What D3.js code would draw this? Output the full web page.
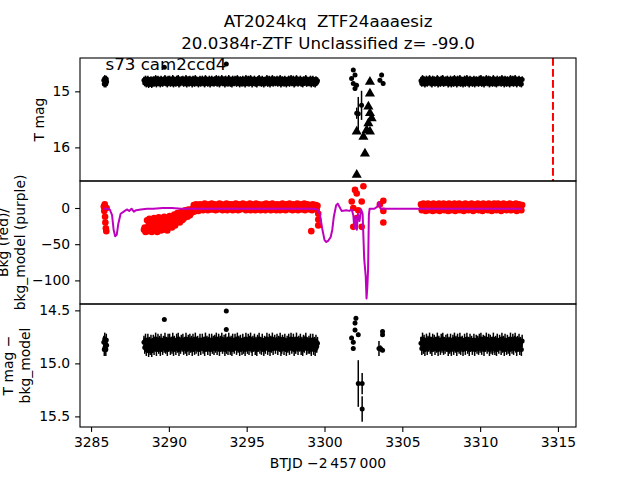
<!DOCTYPE html>
<html><head><meta charset="utf-8">
<script src="https://cdn.jsdelivr.net/npm/d3@7"></script>
<style>body{margin:0;background:#fff} text{font-family:"DejaVu Sans",sans-serif;white-space:pre}</style>
</head><body>
<svg id="c" width="640" height="480"></svg>
<script>
// ---------------- data ----------------
const titleLines = ["AT2024kq  ZTF24aaaesiz", "20.0384r-ZTF Unclassified z= -99.0"];
const sectorLabel = "s73 cam2ccd4";
const xTicks = [3285, 3290, 3295, 3300, 3305, 3310, 3315];
const topTicks = [15, 16];
const midTicks = [0, -50, -100];
const botTicks = [14.5, 15.0, 15.5];
const markerLine = 3314.68;

// TESS dense light curve, segment A
const timeA = [3285.82, 3285.85, 3285.88, 3285.90, 3285.92, 3285.95, 3285.98, 3286.00];
const magA  = [14.80, 14.87, 14.77, 14.85, 14.81, 14.87, 14.78, 14.83];
const bkgA  = [2, -4, 5, -12, -20, -28, -32, 0];

// segment B
const timeB = [
 3288.40, 3288.45, 3288.50, 3288.55, 3288.60, 3288.65, 3288.70, 3288.75, 3288.80, 3288.85, 3288.90, 3288.95,
 3289.00, 3289.05, 3289.10, 3289.15, 3289.20, 3289.25, 3289.30, 3289.35, 3289.40, 3289.45, 3289.50, 3289.55, 3289.60, 3289.65, 3289.70, 3289.75, 3289.80, 3289.85, 3289.90, 3289.95,
 3290.00, 3290.05, 3290.10, 3290.15, 3290.20, 3290.25, 3290.30, 3290.35, 3290.40, 3290.45, 3290.50, 3290.55, 3290.60, 3290.65, 3290.70, 3290.75, 3290.80, 3290.85, 3290.90, 3290.95,
 3291.00, 3291.05, 3291.10, 3291.15, 3291.20, 3291.25, 3291.30, 3291.35, 3291.40, 3291.45, 3291.50, 3291.55, 3291.60, 3291.65, 3291.70, 3291.75, 3291.80, 3291.85, 3291.90, 3291.95,
 3292.00, 3292.05, 3292.10, 3292.15, 3292.20, 3292.25, 3292.30, 3292.35, 3292.40, 3292.45, 3292.50, 3292.55, 3292.60, 3292.65, 3292.70, 3292.75, 3292.80, 3292.85, 3292.90, 3292.95,
 3293.00, 3293.05, 3293.10, 3293.15, 3293.20, 3293.25, 3293.30, 3293.35, 3293.40, 3293.45, 3293.50, 3293.55, 3293.60, 3293.65, 3293.70, 3293.75, 3293.80, 3293.85, 3293.90, 3293.95,
 3294.00, 3294.05, 3294.10, 3294.15, 3294.20, 3294.25, 3294.30, 3294.35, 3294.40, 3294.45, 3294.50, 3294.55, 3294.60, 3294.65, 3294.70, 3294.75, 3294.80, 3294.85, 3294.90, 3294.95,
 3295.00, 3295.05, 3295.10, 3295.15, 3295.20, 3295.25, 3295.30, 3295.35, 3295.40, 3295.45, 3295.50, 3295.55, 3295.60, 3295.65, 3295.70, 3295.75, 3295.80, 3295.85, 3295.90, 3295.95,
 3296.00, 3296.05, 3296.10, 3296.15, 3296.20, 3296.25, 3296.30, 3296.35, 3296.40, 3296.45, 3296.50, 3296.55, 3296.60, 3296.65, 3296.70, 3296.75, 3296.80, 3296.85, 3296.90, 3296.95,
 3297.00, 3297.05, 3297.10, 3297.15, 3297.20, 3297.25, 3297.30, 3297.35, 3297.40, 3297.45, 3297.50, 3297.55, 3297.60, 3297.65, 3297.70, 3297.75, 3297.80, 3297.85, 3297.90, 3297.95,
 3298.00, 3298.05, 3298.10, 3298.15, 3298.20, 3298.25, 3298.30, 3298.35, 3298.40, 3298.45, 3298.50, 3298.55, 3298.60, 3298.65, 3298.70, 3298.75, 3298.80, 3298.85, 3298.90, 3298.95,
 3299.00, 3299.05, 3299.10, 3299.15, 3299.20, 3299.25, 3299.30, 3299.35, 3299.40, 3299.45, 3299.50, 3299.55];
const magB = [
 14.80, 14.85, 14.78, 14.87, 14.83, 14.78, 14.88, 14.81, 14.86, 14.79, 14.88, 14.82,
 14.79, 14.86, 14.81, 14.77, 14.87, 14.83, 14.78, 14.85, 14.80, 14.87, 14.78, 14.83, 14.86, 14.80, 14.84, 14.77, 14.85, 14.81, 14.87, 14.78,
 14.83, 14.78, 14.86, 14.81, 14.85, 14.77, 14.87, 14.80, 14.83, 14.86, 14.78, 14.84, 14.77, 14.87, 14.81, 14.85, 14.79, 14.83, 14.78, 14.86,
 14.81, 14.85, 14.77, 14.87, 14.82, 14.79, 14.86, 14.78, 14.84, 14.80, 14.87, 14.78, 14.83, 14.86, 14.77, 14.85, 14.81, 14.80, 14.87, 14.83,
 14.78, 14.86, 14.82, 14.78, 14.85, 14.81, 14.87, 14.77, 14.83, 14.80, 14.86, 14.81, 14.78, 14.87, 14.83, 14.78, 14.85, 14.80, 14.86, 14.79,
 14.84, 14.77, 14.86, 14.81, 14.78, 14.87, 14.80, 14.83, 14.77, 14.85, 14.82, 14.79, 14.87, 14.78, 14.85, 14.81, 14.86, 14.77, 14.83, 14.86,
 14.80, 14.87, 14.78, 14.83, 14.85, 14.78, 14.81, 14.86, 14.77, 14.84, 14.80, 14.87, 14.79, 14.83, 14.86, 14.78, 14.85, 14.81, 14.87, 14.77,
 14.82, 14.85, 14.78, 14.86, 14.80, 14.77, 14.84, 14.87, 14.80, 14.83, 14.78, 14.86, 14.81, 14.87, 14.79, 14.83, 14.77, 14.85, 14.81, 14.86,
 14.78, 14.83, 14.87, 14.80, 14.85, 14.81, 14.77, 14.86, 14.83, 14.78, 14.87, 14.80, 14.84, 14.77, 14.86, 14.82, 14.79, 14.85, 14.81, 14.78,
 14.86, 14.80, 14.83, 14.77, 14.87, 14.85, 14.79, 14.81, 14.86, 14.78, 14.83, 14.87, 14.80, 14.84, 14.78, 14.86, 14.81, 14.77, 14.85, 14.82,
 14.78, 14.87, 14.81, 14.85, 14.77, 14.83, 14.86, 14.80, 14.83, 14.78, 14.86, 14.81, 14.87, 14.79, 14.84, 14.80, 14.77, 14.86, 14.82, 14.85,
 14.80, 14.85, 14.78, 14.87, 14.82, 14.78, 14.86, 14.81, 14.87, 14.79, 14.84, 14.81];
const bkgB = [
 -30, -27, -33, -29, -17, -32, -24, -15, -29, -21, -33, -18,
 -26, -14, -31, -22, -16, -33, -25, -13, -29, -20, -31, -15, -24, -30, -12, -22, -28, -17, -31, -19,
 -13, -11, -25, -18, -27, -12, -21, -9, -24, -15, -20, -7, -18, -12, -20, -6, -14, -17, -9, -15,
 -5, -3, -11, -6, -12, -2, -8, -10, -4, -7, -1, -3, 4, -5, 1, 5, -2, 3, -4, 2,
 5, -2, 1, 4, -3, 2, 6, -1, 0, 4, -3, 3, 5, -2, 1, 6, -2, 2, 0, 5,
 -3, 1, 4, -2, 3, 6, -1, 0, 5, -3, 2, 4, -2, 1, 6, -3, 3, 0, 5, -1,
 2, 5, -3, 1, 4, -2, 6, 0, 3, -3, 5, 1, -2, 4, 2, 6, -1, 0, 5, -3,
 1, 4, -2, 3, 6, -3, 0, 5, 2, -1, 4, -3, 6, 1, -2, 3, 5, 0, -3, 4,
 3, -2, 5, 1, -3, 6, 2, 0, 4, -1, 5, -3, 2, 6, 0, -2, 4, 1, -3, 5,
 -1, 4, 2, -3, 5, 0, 6, -2, 3, 1, -3, 5, 4, -1, 2, 6, -2, 0, 3, -3,
 5, 1, -2, 4, 0, 6, -3, 2, 3, -1, 5, -2, 1, 4, 6, -3, 0, 2, 5, -1,
 3, -2, 4, 1, -3, 5, 0, 2, -1, 4, -2, 3];

// segment C
const timeC = [
 3306.20, 3306.25, 3306.30, 3306.35, 3306.40, 3306.45, 3306.50, 3306.55, 3306.60, 3306.65, 3306.70, 3306.75, 3306.80, 3306.85, 3306.90, 3306.95,
 3307.00, 3307.05, 3307.10, 3307.15, 3307.20, 3307.25, 3307.30, 3307.35, 3307.40, 3307.45, 3307.50, 3307.55, 3307.60, 3307.65, 3307.70, 3307.75, 3307.80, 3307.85, 3307.90, 3307.95,
 3308.00, 3308.05, 3308.10, 3308.15, 3308.20, 3308.25, 3308.30, 3308.35, 3308.40, 3308.45, 3308.50, 3308.55, 3308.60, 3308.65, 3308.70, 3308.75, 3308.80, 3308.85, 3308.90, 3308.95,
 3309.00, 3309.05, 3309.10, 3309.15, 3309.20, 3309.25, 3309.30, 3309.35, 3309.40, 3309.45, 3309.50, 3309.55, 3309.60, 3309.65, 3309.70, 3309.75, 3309.80, 3309.85, 3309.90, 3309.95,
 3310.00, 3310.05, 3310.10, 3310.15, 3310.20, 3310.25, 3310.30, 3310.35, 3310.40, 3310.45, 3310.50, 3310.55, 3310.60, 3310.65, 3310.70, 3310.75, 3310.80, 3310.85, 3310.90, 3310.95,
 3311.00, 3311.05, 3311.10, 3311.15, 3311.20, 3311.25, 3311.30, 3311.35, 3311.40, 3311.45, 3311.50, 3311.55, 3311.60, 3311.65, 3311.70, 3311.75, 3311.80, 3311.85, 3311.90, 3311.95,
 3312.00, 3312.05, 3312.10, 3312.15, 3312.20, 3312.25, 3312.30, 3312.35, 3312.40, 3312.45, 3312.50, 3312.55, 3312.60, 3312.65, 3312.70];
const magC = [
 14.81, 14.86, 14.77, 14.85, 14.79, 14.87, 14.82, 14.78, 14.86, 14.80, 14.83, 14.77, 14.85, 14.81, 14.87, 14.78,
 14.83, 14.79, 14.86, 14.81, 14.84, 14.77, 14.87, 14.80, 14.82, 14.86, 14.78, 14.84, 14.77, 14.86, 14.81, 14.85, 14.79, 14.83, 14.78, 14.87,
 14.81, 14.85, 14.78, 14.87, 14.82, 14.79, 14.86, 14.77, 14.84, 14.80, 14.87, 14.78, 14.83, 14.85, 14.77, 14.86, 14.81, 14.80, 14.87, 14.82,
 14.78, 14.86, 14.82, 14.77, 14.85, 14.81, 14.87, 14.78, 14.83, 14.80, 14.86, 14.82, 14.78, 14.87, 14.83, 14.79, 14.85, 14.80, 14.86, 14.78,
 14.84, 14.77, 14.86, 14.81, 14.79, 14.87, 14.80, 14.83, 14.77, 14.85, 14.82, 14.78, 14.87, 14.79, 14.85, 14.81, 14.86, 14.77, 14.84, 14.86,
 14.80, 14.87, 14.78, 14.83, 14.85, 14.79, 14.81, 14.86, 14.77, 14.84, 14.80, 14.87, 14.78, 14.83, 14.86, 14.79, 14.85, 14.81, 14.87, 14.77,
 14.82, 14.85, 14.78, 14.86, 14.80, 14.77, 14.84, 14.87, 14.80, 14.83, 14.78, 14.86, 14.81, 14.87, 14.79];
const bkgC = [
 5, -3, 1, 6, -2, 2, -4, 4, 0, 6, -3, 1, 5, -2, 3, -4,
 6, 0, 2, -3, 5, -1, 1, 6, -4, 2, 4, -2, 0, 6, -3, 3, 5, -2, 1, -4,
 6, 0, 2, -3, 5, -1, 3, 6, -4, 1, 4, -2, 0, 6, -3, 2, 5, -2, 1, -4,
 3, 6, -2, 0, 5, -3, 1, 4, -1, 6, 2, -4, 3, 0, 5, -2, 1, 6, -3, 2,
 -1, 5, 2, -4, 6, 0, 3, -2, 4, 1, -3, 6, 2, -1, 5, -4, 0, 3, 6, -2,
 4, -3, 1, 6, -1, 2, 5, -4, 0, 3, 6, -2, 1, 4, -3, 5, 2, -1, 6, 0,
 -3, 4, 1, 5, -2, 2, 6, -4, 0, 3, 5, -1, 2, -3, 4];
const denseErr = 0.06;

// sparse TESS points (top panel)
const topSparseTime = [3289.71, 3293.69, 3301.74, 3301.85, 3301.85, 3301.96, 3301.96, 3302.06, 3302.07, 3302.17, 3302.38, 3303.56, 3303.67, 3303.77];
const topSparseMag  = [14.57, 14.51, 14.77, 14.62, 14.86, 14.71, 14.95, 14.89, 15.39, 15.40, 15.25, 14.80, 14.71, 14.86];
const topSparseErr  = [0.02, 0.02, 0.03, 0.03, 0.03, 0.03, 0.04, 0.04, 0.10, 0.30, 0.26, 0.04, 0.04, 0.04];
// ZTF upper limits (triangles)
const limTime = [3302.92, 3302.92, 3302.82, 3302.92, 3302.82, 3302.71, 3302.92, 3302.50, 3302.07, 3303.03, 3302.60, 3302.07];
const limMag  = [14.83, 15.04, 15.27, 15.39, 15.57, 15.69, 15.72, 15.81, 15.72, 15.48, 16.11, 16.49];

// sparse background points (middle panel)
const midSparseTime = [3299.15, 3299.6, 3299.6, 3299.6, 3301.75, 3301.85, 3301.85, 3301.96, 3302.07, 3302.07, 3302.17, 3302.39, 3302.39, 3302.5, 3303.56, 3303.78, 3303.78, 3303.78];
const midSparseBkg  = [-32, -8, -16, -24, 9, 0, -26, 25, 20, -14, -3, 9, -26, 30, 5, 10, -4, -20];

// background model (purple line)
const modelTime = [3285.8, 3286.0, 3286.2, 3286.35, 3286.45, 3286.55, 3286.65, 3286.75, 3286.9, 3287.1,
 3287.3, 3287.45, 3287.6, 3287.75, 3287.9, 3288.2, 3288.6, 3289.0, 3289.6, 3290.2,
 3290.8, 3291.5, 3293.0, 3295.0, 3297.0, 3299.3, 3299.55, 3299.7, 3299.85, 3300.0,
 3300.1, 3300.25, 3300.4, 3300.5, 3300.6, 3300.75, 3300.85, 3300.95, 3301.1, 3301.4,
 3301.6, 3301.75, 3301.85, 3301.92, 3302.0, 3302.08, 3302.15, 3302.25, 3302.35, 3302.45,
 3302.55, 3302.65, 3302.7, 3302.75, 3302.8, 3302.85, 3302.9, 3303.2, 3303.4, 3303.5,
 3303.55, 3303.6, 3304.5, 3306.2, 3309.0, 3312.7];
const modelBkg = [-1, -1, -2, -10, -30, -39, -37, -22, -8, -5,
 -2, -4, -1, -5, -3, -2, -1, -1, 0, 0,
 -1, -1, -1, -1, -1, -1, -2, -8, -28, -44,
 -47, -45, -40, -30, -12, 4, 6, 2, -4, -3,
 -4, -2, -10, -28, -12, -30, -8, -18, -2, -8,
 -70, -95, -125, -110, -85, -10, -1, -1, 2, 8,
 3, -1, -1, -1, -1, -1];

// sparse points (bottom panel)
const botSparseTime = [3289.71, 3293.69, 3293.69, 3301.74, 3301.85, 3301.85, 3301.96, 3301.96, 3302.02, 3302.17, 3302.17, 3302.42, 3302.42, 3303.5, 3303.6, 3303.73, 3303.73, 3303.73];
const botSparseMag  = [14.585, 14.507, 14.68, 14.76, 14.80, 14.86, 14.62, 14.686, 14.575, 14.73, 15.19, 15.19, 15.43, 14.86, 14.86, 14.70, 14.73, 14.875];
const botSparseErr  = [0.01, 0.01, 0.01, 0.02, 0.02, 0.02, 0.02, 0.02, 0.02, 0.02, 0.22, 0.10, 0.12, 0.07, 0.03, 0.02, 0.02, 0.02];

// ---------------- drawing ----------------
const svg = d3.select("#c");
const L = 80, R = 576;
const P = {top: [58, 181], mid: [181, 304], bot: [304, 427]};
const x = d3.scaleLinear().domain([3284.29, 3316.16]).range([L, R]);
const yTop = d3.scaleLinear().domain([14.405, 16.60]).range(P.top);
const yMid = d3.scaleLinear().domain([37.3, -132.6]).range(P.mid);
const yBot = d3.scaleLinear().domain([14.44, 15.60]).range(P.bot);

const zip = (t, v, e) => t.map((d, i) => ({t: d, v: v[i], e: e ? (Array.isArray(e) ? e[i] : e) : 0})).filter(d => d.v !== undefined);
const dense = zip(timeA, magA, denseErr).concat(zip(timeB, magB, denseErr), zip(timeC, magC, denseErr));
const denseBkg = zip(timeA, bkgA).concat(zip(timeB, bkgB), zip(timeC, bkgC), zip(midSparseTime, midSparseBkg));

const defs = svg.append("defs");
Object.entries(P).forEach(([k, r]) => {
  defs.append("clipPath").attr("id", "clip-" + k).append("rect")
    .attr("x", L).attr("y", r[0]).attr("width", R - L).attr("height", r[1] - r[0]);
});

function errPoints(g, data, y, color, rad) {
  g.selectAll(null).data(data).enter().append("line")
    .attr("x1", d => x(d.t)).attr("x2", d => x(d.t))
    .attr("y1", d => y(d.v - d.e)).attr("y2", d => y(d.v + d.e))
    .attr("stroke", color).attr("stroke-width", 1.5);
  g.selectAll(null).data(data).enter().append("circle")
    .attr("cx", d => x(d.t)).attr("cy", d => y(d.v)).attr("r", rad).attr("fill", color);
}

// top panel
const gTop = svg.append("g").attr("clip-path", "url(#clip-top)");
errPoints(gTop, dense, yTop, "#000", 2.5);
errPoints(gTop, zip(topSparseTime, topSparseMag, topSparseErr), yTop, "#000", 2.5);
const tri = d3.symbol().type(d3.symbolTriangle).size(44);
gTop.selectAll(null).data(zip(limTime, limMag)).enter().append("path")
  .attr("d", tri).attr("transform", d => `translate(${x(d.t)},${yTop(d.v)})`).attr("fill", "#000");
gTop.append("line").attr("x1", x(markerLine)).attr("x2", x(markerLine))
  .attr("y1", P.top[0]).attr("y2", P.top[1])
  .attr("stroke", "#ff0000").attr("stroke-width", 2).attr("stroke-dasharray", "7.7,3.3");
svg.append("text").attr("x", 105.5).attr("y", 70).attr("font-size", "16.67px").text(sectorLabel);

// middle panel
const gMid = svg.append("g").attr("clip-path", "url(#clip-mid)");
gMid.selectAll(null).data(denseBkg).enter().append("circle")
  .attr("cx", d => x(d.t)).attr("cy", d => yMid(d.v)).attr("r", 3.3).attr("fill", "#ff0000");
gMid.append("path").datum(zip(modelTime, modelBkg))
  .attr("d", d3.line().x(d => x(d.t)).y(d => yMid(d.v)))
  .attr("fill", "none").attr("stroke", "#bf00bf").attr("stroke-width", 2).attr("stroke-linejoin", "round");

// bottom panel
const gBot = svg.append("g").attr("clip-path", "url(#clip-bot)");
errPoints(gBot, dense, yBot, "#000", 2.5);
errPoints(gBot, zip(botSparseTime, botSparseMag, botSparseErr), yBot, "#000", 2.5);

// axes
function styleAxis(g) {
  g.select(".domain").remove();
  g.selectAll("line").attr("stroke", "#000").attr("stroke-width", 1.1);
  g.selectAll("text").attr("font-size", "13.9px").attr("fill", "#000").attr("font-family", "DejaVu Sans");
}
svg.append("g").attr("transform", `translate(${L},0)`)
  .call(d3.axisLeft(yTop).tickValues(topTicks).tickSize(4.9).tickPadding(4.9).tickFormat(d3.format("d"))).call(styleAxis);
svg.append("g").attr("transform", `translate(${L},0)`)
  .call(d3.axisLeft(yMid).tickValues(midTicks).tickSize(4.9).tickPadding(4.9).tickFormat(d3.format("d"))).call(styleAxis);
svg.append("g").attr("transform", `translate(${L},0)`)
  .call(d3.axisLeft(yBot).tickValues(botTicks).tickSize(4.9).tickPadding(4.9).tickFormat(d3.format(".1f"))).call(styleAxis);
svg.append("g").attr("transform", `translate(0,${P.bot[1]})`)
  .call(d3.axisBottom(x).tickValues(xTicks).tickSize(4.9).tickPadding(4.9).tickFormat(d3.format("d"))).call(styleAxis);

// frames
Object.values(P).forEach(r => {
  svg.append("rect").attr("x", L).attr("y", r[0]).attr("width", R - L).attr("height", r[1] - r[0])
    .attr("fill", "none").attr("stroke", "#000").attr("stroke-width", 1.1);
});

// labels
function ylab(lines, xs, cy) {
  lines.forEach((s, i) => {
    svg.append("text").attr("transform", `translate(${xs[i]},${cy}) rotate(-90)`)
      .attr("text-anchor", "middle").attr("font-size", "13.9px").text(s);
  });
}
ylab(["T mag"], [43.5], (P.top[0] + P.top[1]) / 2);
ylab(["Bkg (red)/", "bkg_model (purple)"], [8, 24.5], (P.mid[0] + P.mid[1]) / 2);
ylab(["T mag \u2212", "bkg_model"], [13, 29.5], (P.bot[0] + P.bot[1]) / 2);
svg.append("text").attr("x", (L + R) / 2).attr("y", 468).attr("text-anchor", "middle")
  .attr("font-size", "13.9px").text("BTJD \u22122\u2009457\u2009000");
titleLines.forEach((s, i) => {
  svg.append("text").attr("x", (L + R) / 2).attr("y", 27.3 + i * 21.5).attr("text-anchor", "middle")
    .attr("font-size", "16.67px").text(s);
});
</script>
</body></html>
